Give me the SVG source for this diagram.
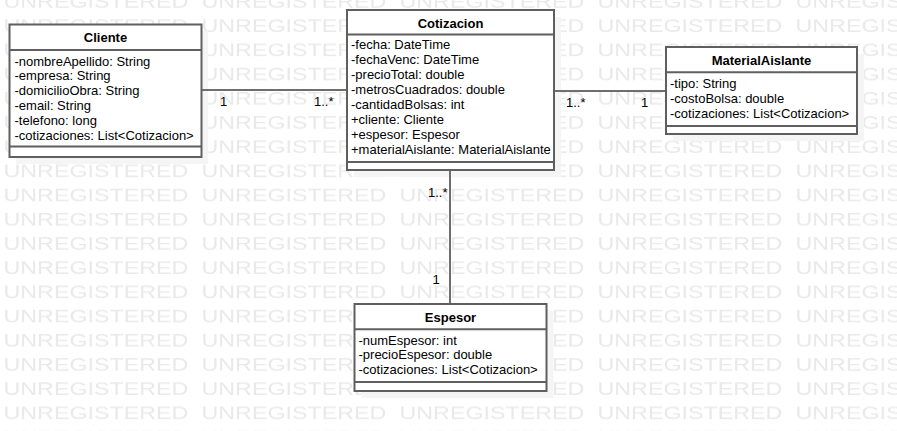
<svg xmlns="http://www.w3.org/2000/svg" width="897" height="431" viewBox="0 0 897 431">
<style>
.box{fill:#ffffff;stroke:#5f5f5f;stroke-width:2}
.sep{stroke:#5f5f5f;stroke-width:2}
.shadow{fill:#f5f5f5}
.title{font-family:"Liberation Sans",Arial,sans-serif;font-size:13px;font-weight:bold;fill:#000;text-anchor:middle}
.attr{font-family:"Liberation Sans",Arial,sans-serif;font-size:13px;fill:#000}
.lbl{font-family:"Liberation Sans",Arial,sans-serif;font-size:13px;fill:#000}
.conn{stroke:#6e6e6e;stroke-width:2;fill:none}
.wm{font-family:"Liberation Sans",Arial,sans-serif;font-size:17.5px;fill:#e9e9e9}
</style>
<defs>
<pattern id="wmPat" x="0" y="0" width="198" height="24.2" patternUnits="userSpaceOnUse">
<text class="wm" transform="translate(3.5,7.9) scale(1.33,1)" x="0" y="0">UNREGISTERED</text>
<text class="wm" transform="translate(3.5,32.1) scale(1.33,1)" x="0" y="0">UNREGISTERED</text>
</pattern>
</defs>
<rect x="0" y="0" width="897" height="431" fill="#ffffff"/>
<rect id="watermark" x="0" y="0" width="897" height="431" fill="url(#wmPat)"/>

<g id="shadows">
<rect class="shadow" x="16" y="31" width="192" height="133"/>
<rect class="shadow" x="354" y="17" width="207" height="160"/>
<rect class="shadow" x="673" y="54" width="191" height="87"/>
<rect class="shadow" x="361.5" y="311" width="192" height="87"/>
</g>

<g id="connectors">
<line class="conn" x1="201" y1="90" x2="347" y2="90"/>
<line class="conn" x1="554" y1="91" x2="666" y2="91"/>
<line class="conn" x1="450" y1="170" x2="450" y2="304"/>
<text class="lbl" x="220" y="106">1</text>
<text class="lbl" x="314" y="106">1..*</text>
<text class="lbl" x="566" y="106.5">1..*</text>
<text class="lbl" x="641" y="106.5">1</text>
<text class="lbl" x="428" y="197">1..*</text>
<text class="lbl" x="432.5" y="284">1</text>
</g>

<g id="Cliente">
<rect class="box" x="9.5" y="24.5" width="192" height="132.5"/>
<line class="sep" x1="9.5" y1="50" x2="201.5" y2="50"/>
<line class="sep" x1="9.5" y1="146.5" x2="201.5" y2="146.5"/>
<text class="title" x="105.5" y="42">Cliente</text>
<text class="attr" x="14.5" y="65.5">-nombreApellido: String</text>
<text class="attr" x="14.5" y="80.3">-empresa: String</text>
<text class="attr" x="14.5" y="95.1">-domicilioObra: String</text>
<text class="attr" x="14.5" y="109.9">-email: String</text>
<text class="attr" x="14.5" y="124.7">-telefono: long</text>
<text class="attr" x="14.5" y="139.5">-cotizaciones: List&lt;Cotizacion&gt;</text>
</g>

<g id="Cotizacion">
<rect class="box" x="347" y="10" width="207" height="160"/>
<line class="sep" x1="347" y1="34.5" x2="554" y2="34.5"/>
<line class="sep" x1="347" y1="162" x2="554" y2="162"/>
<text class="title" x="450.5" y="27.5">Cotizacion</text>
<text class="attr" x="351" y="49">-fecha: DateTime</text>
<text class="attr" x="351" y="64">-fechaVenc: DateTime</text>
<text class="attr" x="351" y="79">-precioTotal: double</text>
<text class="attr" x="351" y="94">-metrosCuadrados: double</text>
<text class="attr" x="351" y="109">-cantidadBolsas: int</text>
<text class="attr" x="351" y="124">+cliente: Cliente</text>
<text class="attr" x="351" y="139">+espesor: Espesor</text>
<text class="attr" x="351" y="154">+materialAislante: MaterialAislante</text>
</g>

<g id="MaterialAislante">
<rect class="box" x="666" y="47" width="191" height="87"/>
<line class="sep" x1="666" y1="72.3" x2="857" y2="72.3"/>
<line class="sep" x1="666" y1="126" x2="857" y2="126"/>
<text class="title" x="761.5" y="65">MaterialAislante</text>
<text class="attr" x="670" y="88">-tipo: String</text>
<text class="attr" x="670" y="103">-costoBolsa: double</text>
<text class="attr" x="670" y="118">-cotizaciones: List&lt;Cotizacion&gt;</text>
</g>

<g id="Espesor">
<rect class="box" x="354.5" y="304" width="192" height="87"/>
<line class="sep" x1="354.5" y1="329.3" x2="546.5" y2="329.3"/>
<line class="sep" x1="354.5" y1="382" x2="546.5" y2="382"/>
<text class="title" x="450.5" y="321.5">Espesor</text>
<text class="attr" x="358.5" y="344.5">-numEspesor: int</text>
<text class="attr" x="358.5" y="359.3">-precioEspesor: double</text>
<text class="attr" x="358.5" y="374">-cotizaciones: List&lt;Cotizacion&gt;</text>
</g>
</svg>
